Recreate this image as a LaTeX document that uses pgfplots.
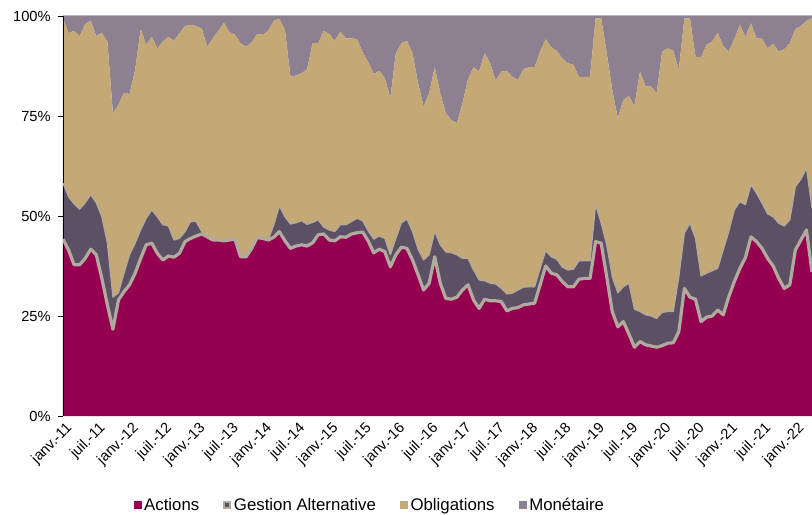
\documentclass[border=0pt]{standalone}
\usepackage{fontspec}
\setmainfont{Liberation Sans}
\usepackage{pgfplots}
\usepackage{pgfplotstable}
\pgfplotsset{compat=1.18}
\definecolor{cA}{HTML}{960050}
\definecolor{cG}{HTML}{5C5064}
\definecolor{cO}{HTML}{C4A976}
\definecolor{cM}{HTML}{8D8191}
\definecolor{cOut}{HTML}{B2AA9E}
\definecolor{cTop}{HTML}{BDB6C0}
\pgfplotstableread{
i A G O M
0 44.2 14.0 41.2 0.6
1 41.5 13.3 40.9 4.3
2 37.8 15.2 43.3 3.7
3 37.8 13.9 43.3 5.0
4 39.4 13.9 44.7 2.0
5 41.7 13.6 43.5 1.2
6 40.3 13.0 41.7 5.0
7 34.4 15.4 46.0 4.2
8 27.8 15.4 50.4 6.4
9 21.7 8.0 46.0 24.3
10 29.0 1.8 47.0 22.2
11 31.1 4.6 45.1 19.2
12 32.8 7.5 40.2 19.5
13 35.7 7.5 43.3 13.5
14 39.4 7.1 50.2 3.3
15 42.8 6.6 43.4 7.2
16 43.2 8.3 43.3 5.2
17 40.7 9.1 42.1 8.1
18 39.0 8.8 45.8 6.4
19 40.0 7.5 47.3 5.2
20 39.7 4.3 49.8 6.2
21 40.7 3.7 51.3 4.3
22 43.6 2.5 51.4 2.5
23 44.4 4.2 49.2 2.2
24 45.0 3.6 48.9 2.5
25 45.5 0.6 50.8 3.1
26 44.8 0.0 47.5 7.7
27 44.0 0.0 50.4 5.6
28 44.0 0.0 52.3 3.7
29 43.8 0.0 54.5 1.7
30 44.0 0.0 52.0 4.0
31 44.2 0.0 51.1 4.7
32 39.8 0.0 53.4 6.8
33 39.8 0.0 52.5 7.7
34 41.9 0.0 51.5 6.6
35 44.6 0.0 50.9 4.5
36 44.4 0.0 50.9 4.7
37 44.0 0.0 52.3 3.7
38 44.7 3.1 51.0 1.2
39 46.1 6.4 46.8 0.7
40 43.8 6.0 46.7 3.5
41 41.9 6.1 36.8 15.2
42 42.5 5.8 36.8 14.9
43 42.8 6.0 36.9 14.3
44 42.5 5.4 38.8 13.3
45 43.3 5.1 44.8 6.8
46 45.3 3.7 44.2 6.8
47 45.5 1.7 49.1 3.7
48 44.0 2.5 49.0 4.5
49 43.8 2.3 47.7 6.2
50 44.8 3.0 48.3 3.9
51 44.7 3.1 46.6 5.6
52 45.5 3.1 45.8 5.6
53 45.8 3.6 44.8 5.8
54 46.0 2.8 42.2 9.0
55 43.8 2.5 42.2 11.5
56 40.8 3.4 41.3 14.5
57 41.7 3.3 41.3 13.7
58 41.1 3.3 40.1 15.5
59 37.3 3.0 39.1 20.6
60 40.3 4.1 46.3 9.3
61 42.2 6.1 44.9 6.8
62 41.9 7.3 44.6 6.2
63 39.0 7.1 44.6 9.3
64 35.3 6.4 41.5 16.8
65 31.5 7.5 38.3 22.7
66 33.2 7.1 40.4 19.3
67 39.8 6.3 41.1 12.8
68 33.2 9.6 37.9 19.3
69 29.4 11.6 34.7 24.3
70 29.2 11.6 33.2 26.0
71 29.7 10.6 32.9 26.8
72 31.5 7.9 38.8 21.8
73 32.8 6.6 44.8 15.8
74 29.0 7.5 50.7 12.8
75 26.9 7.1 52.1 13.9
76 29.2 4.6 56.9 9.3
77 28.8 4.4 55.0 11.8
78 28.8 4.2 50.8 16.2
79 28.6 3.3 54.2 13.9
80 26.3 4.2 55.8 13.7
81 26.9 3.8 54.1 15.2
82 27.1 4.4 52.5 16.0
83 27.8 4.4 54.5 13.3
84 28.0 4.3 54.9 12.8
85 28.2 4.1 54.9 12.8
86 32.8 4.1 54.2 8.9
87 37.5 3.8 52.9 5.8
88 35.7 4.1 52.4 7.8
89 35.3 3.9 52.1 8.7
90 33.6 3.6 52.2 10.6
91 32.3 4.2 51.7 11.8
92 32.3 4.4 51.1 12.2
93 34.2 4.6 46.0 15.2
94 34.4 4.4 46.0 15.2
95 34.4 4.4 46.0 15.2
96 43.6 9.2 46.6 0.6
97 43.2 5.0 51.2 0.6
98 34.8 8.0 47.9 9.3
99 26.1 8.7 46.7 18.5
100 22.3 8.5 43.6 25.6
101 23.6 8.7 46.7 21.0
102 20.5 12.7 46.8 20.0
103 17.2 9.5 50.8 22.5
104 18.6 7.5 60.0 13.9
105 17.8 7.5 57.2 17.5
106 17.5 7.5 57.3 17.7
107 17.2 7.2 56.3 19.3
108 17.6 8.3 65.2 8.9
109 18.2 7.9 65.8 8.1
110 18.3 7.8 65.2 8.7
111 21.1 13.7 51.7 13.5
112 31.9 13.8 53.7 0.6
113 29.7 18.5 51.2 0.6
114 29.2 15.2 45.4 10.2
115 23.6 11.4 54.7 10.3
116 24.7 11.0 57.1 7.2
117 25.0 11.3 57.3 6.4
118 26.5 10.4 58.9 4.2
119 25.3 16.2 51.0 7.5
120 29.8 16.3 45.0 8.9
121 33.6 17.9 42.7 5.8
122 36.9 16.7 44.2 2.2
123 39.6 13.2 42.0 5.2
124 44.8 13.0 40.4 1.8
125 43.6 12.1 38.7 5.6
126 41.9 11.3 41.1 5.7
127 39.4 11.1 41.4 8.1
128 37.5 12.3 43.2 7.0
129 34.4 13.8 42.9 8.9
130 31.9 15.6 44.2 8.3
131 32.8 16.2 44.2 6.8
132 41.5 15.8 39.4 3.3
133 44.0 15.2 38.3 2.5
134 46.5 15.5 36.8 1.2
135 36.0 16.0 47.5 0.5
}\data

\begin{document}
\begin{tikzpicture}
\begin{axis}[
  scale only axis,
  width=561.75pt, height=300pt,
  xmin=0, xmax=135, ymin=0, ymax=100,
  stack plots=y,
  axis x line*=bottom, axis y line*=left,
  x axis line style={draw=none},
  y axis line style={draw=none},
  xtick={0,6,...,132},
  xticklabels={janv.-11,juil.-11,janv.-12,juil.-12,janv.-13,juil.-13,janv.-14,juil.-14,janv.-15,juil.-15,janv.-16,juil.-16,janv.-17,juil.-17,janv.-18,juil.-18,janv.-19,juil.-19,janv.-20,juil.-20,janv.-21,juil.-21,janv.-22},
  x tick style={draw=none},
  ytick={0,25,50,75,100},
  yticklabels={0\%,25\%,50\%,75\%,100\%},
  tick align=outside,
  y tick style={black, line width=0.6pt},
  major tick length=3.75pt,
  /pgf/number format/assume math mode=true,
  ticklabel style={font=\fontsize{11}{13}\selectfont, text=black},
  yticklabel style={xshift=-2pt},
  xticklabel style={rotate=45, anchor=north east, inner sep=1pt, xshift=2pt},
  legend columns=4,
  legend cell align=left,
  legend style={at={(0.41,-0.2225)}, anchor=center, draw=none, fill=none,
    font=\fontsize{12.6}{14}\selectfont, inner sep=0pt,
    /tikz/every even column/.append style={column sep=16pt}},
]
\addplot[fill=cA, draw=none, legend image code/.code={\fill[cA] (0pt,-3pt) rectangle (6pt,3pt);}] table[x=i, y=A] {\data} \closedcycle;
\addlegendentry{Actions}
\addplot[fill=cG, draw=none, legend image code/.code={\draw[fill=cG, draw=cOut, line width=1.6pt] (0.8pt,-2.2pt) rectangle (5.2pt,2.2pt);}] table[x=i, y=G] {\data} \closedcycle;
\addlegendentry{Gestion Alternative}
\addplot[fill=cO, draw=none, legend image code/.code={\fill[cO] (0pt,-3pt) rectangle (6pt,3pt);}] table[x=i, y=O] {\data} \closedcycle;
\addlegendentry{Obligations}
\addplot[fill=cM, draw=none, legend image code/.code={\fill[cM] (0pt,-3pt) rectangle (6pt,3pt);}] table[x=i, y=M] {\data} \closedcycle;
\addlegendentry{Monétaire}
\coordinate (pa) at (rel axis cs:0,0);
\coordinate (pb) at (rel axis cs:1,1);
\end{axis}
\begin{axis}[
  scale only axis,
  width=561.75pt, height=300pt,
  xmin=0, xmax=135, ymin=0, ymax=100,
  axis x line=none, axis y line*=left,
  y axis line style={black, line width=0.6pt},
  ytick=\empty,
]
\addplot[draw=cOut, line width=0.9pt, line join=round] table[x=i, y expr=\thisrow{A}+\thisrow{G}] {\data};
\addplot[draw=cOut, line width=2.4pt, line join=round] table[x=i, y=A] {\data};
\draw[cTop, line width=0.75pt] (rel axis cs:0,1) -- (rel axis cs:1,1);
\end{axis}
\pgfresetboundingbox
\useasboundingbox ([xshift=-47.25pt,yshift=-74.25pt]pa) rectangle ([yshift=12pt]pb);
\end{tikzpicture}
\end{document}
